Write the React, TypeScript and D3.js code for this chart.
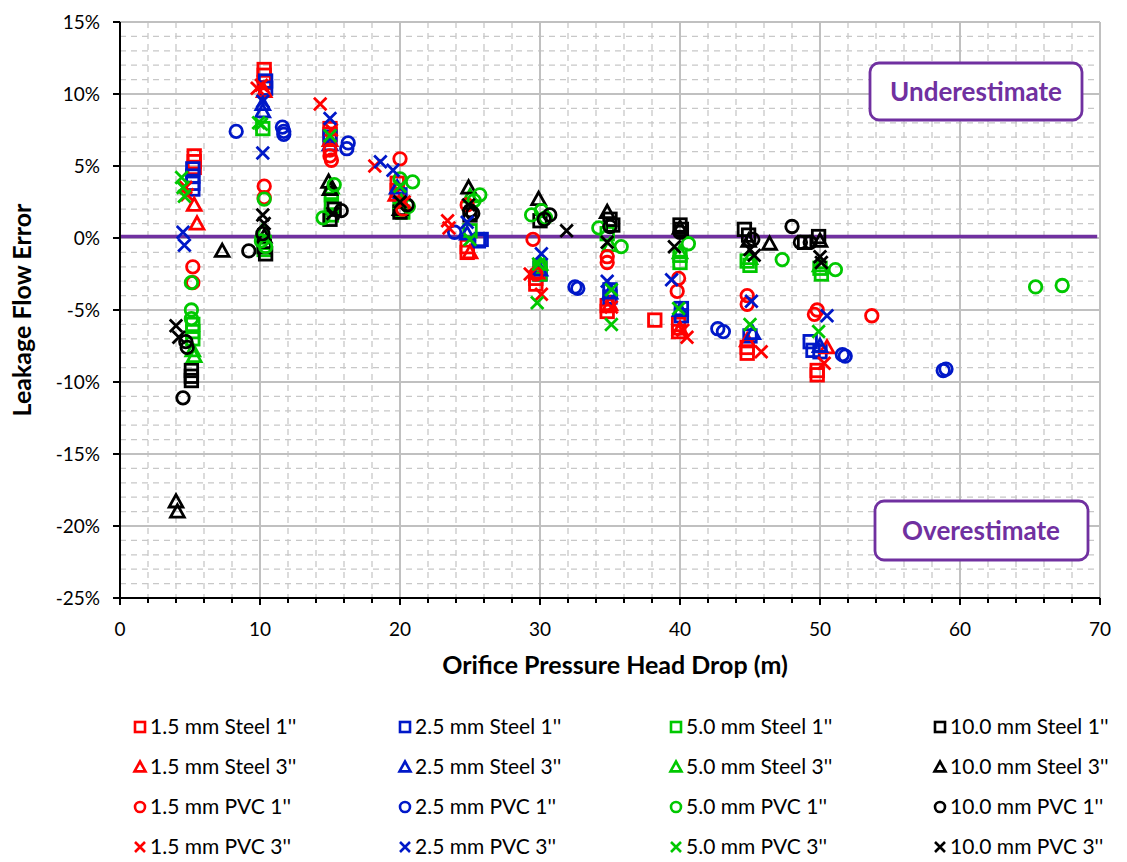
import React from "react";
import * as d3 from "d3";

type P = [number, number];

// Series data: [head drop (m), error (%)]
const s15Steel1: P[] = [[5.3,5.7],[5.3,5.3],[5.3,4.9],[10.3,11.7],[10.3,11.3],[10.3,10.8],[15.0,7.6],[15.0,7.2],[19.8,3.8],[19.8,3.3],[24.8,-0.6],[24.8,-1.0],[29.7,-2.8],[29.7,-3.2],[34.8,-4.7],[34.8,-5.1],[38.2,-5.7],[39.9,-6.0],[39.9,-6.5],[44.8,-7.6],[44.8,-8.0],[49.8,-9.2],[49.8,-9.5]];
const s25Steel1: P[] = [[5.2,4.8],[5.2,4.3],[5.2,3.8],[5.2,3.4],[10.4,10.9],[10.4,10.4],[15.0,7.0],[20.0,3.0],[25.6,-0.2],[25.8,-0.1],[30.0,-2.1],[30.0,-2.5],[35.0,-3.6],[35.0,-4.1],[40.1,-4.9],[40.1,-5.4],[45.0,-6.8],[49.3,-7.2],[49.5,-7.8],[50.0,-7.9]];
const s50Steel1: P[] = [[5.2,-6.0],[5.2,-6.5],[5.2,-7.0],[10.2,7.6],[10.3,-0.3],[10.3,-0.8],[15.1,3.0],[15.1,2.3],[15.1,1.6],[20.0,2.0],[20.2,1.8],[25.0,0.5],[30.0,-2.0],[30.0,-2.5],[34.8,0.3],[40.0,-1.2],[40.0,-1.7],[44.8,-1.6],[45.0,-1.9],[50.0,-2.1],[50.1,-2.5]];
const s10Steel1: P[] = [[5.1,-9.2],[5.1,-9.6],[5.1,-9.9],[10.3,-0.6],[10.4,-1.1],[15.0,1.3],[15.3,2.0],[20.0,1.8],[25.0,1.6],[30.0,1.2],[35.0,1.3],[35.2,0.9],[40.0,0.9],[40.1,0.6],[44.6,0.6],[44.9,0.2],[48.9,-0.3],[49.9,0.1]];
const s15Steel3: P[] = [[5.3,2.3],[5.5,1.0],[10.3,10.2],[15.0,6.8],[19.7,3.0],[25.0,-1.0],[29.8,-2.4],[35.0,-4.6],[40.0,-6.3],[44.8,-7.1],[50.5,-7.6]];
const s25Steel3: P[] = [[10.2,9.3],[10.2,8.8],[15.0,6.5],[19.8,3.5],[24.8,0.3],[30.0,-2.2],[35.0,-3.8],[40.0,-5.0],[45.2,-6.6],[50.0,-7.5]];
const s50Steel3: P[] = [[5.2,-7.8],[5.3,-8.2],[10.2,0.5],[15.1,3.5],[20.1,2.5],[25.0,2.9],[30.0,-1.8],[35.0,-0.5],[40.0,-1.0],[45.0,-1.4],[50.0,-1.9]];
const s10Steel3: P[] = [[4.0,-18.3],[4.1,-19.0],[7.3,-0.9],[10.3,0.1],[14.9,3.9],[15.0,3.4],[20.0,2.0],[24.9,3.5],[29.9,2.7],[34.8,1.8],[40.0,0.7],[44.9,-0.2],[46.4,-0.4],[50.0,-0.2]];
const s15Pvc1: P[] = [[5.2,-2.0],[5.2,-3.1],[10.3,3.6],[10.3,2.8],[15.0,6.1],[15.0,5.7],[15.1,5.4],[20.0,5.5],[20.2,2.0],[24.8,2.3],[29.5,-0.1],[29.7,-2.5],[34.8,-1.3],[34.8,-1.7],[39.9,-2.8],[39.8,-3.7],[44.8,-4.0],[44.8,-4.6],[49.8,-5.0],[49.6,-5.3],[53.7,-5.4]];
const s25Pvc1: P[] = [[8.3,7.4],[11.6,7.7],[11.7,7.4],[11.7,7.2],[16.3,6.6],[16.2,6.2],[23.9,0.4],[32.5,-3.4],[32.7,-3.5],[42.7,-6.3],[43.1,-6.5],[51.6,-8.1],[51.8,-8.2],[58.8,-9.2],[59.0,-9.1]];
const s50Pvc1: P[] = [[5.1,-3.1],[5.1,-5.0],[5.1,-5.6],[10.3,2.7],[10.1,-0.2],[10.4,-0.6],[14.5,1.4],[15.3,3.7],[20.0,4.1],[20.9,3.9],[20.6,2.2],[25.7,3.0],[25.3,2.6],[29.4,1.6],[30.1,1.9],[30.4,1.4],[34.2,0.7],[35.8,-0.6],[40.6,-0.4],[47.3,-1.5],[51.1,-2.2],[65.4,-3.4],[67.3,-3.3]];
const s10Pvc1: P[] = [[4.5,-11.1],[4.7,-7.2],[4.8,-7.6],[9.2,-0.9],[10.2,0.3],[15.8,1.9],[20.5,2.3],[25.0,1.9],[25.2,1.7],[30.3,1.3],[30.7,1.6],[35.0,0.8],[40.0,0.4],[45.2,-0.1],[48.0,0.8],[48.6,-0.3],[49.3,-0.3]];
const s15Pvc3: P[] = [[4.7,3.5],[4.8,3.0],[9.8,10.4],[10.1,10.6],[14.3,9.3],[15.1,7.5],[18.2,5.0],[20.3,2.5],[23.4,1.2],[23.5,0.7],[29.3,-2.5],[30.1,-3.9],[35.1,-4.8],[40.2,-6.4],[40.5,-6.9],[45.8,-7.9],[50.3,-8.7]];
const s25Pvc3: P[] = [[4.5,0.4],[4.6,-0.5],[10.2,9.5],[10.2,5.9],[15.0,8.3],[18.6,5.3],[19.5,4.7],[24.8,1.1],[30.1,-1.1],[34.8,-3.0],[39.4,-2.9],[45.1,-4.4],[50.5,-5.4]];
const s50Pvc3: P[] = [[4.4,4.2],[4.5,3.5],[4.6,2.9],[9.9,8.0],[10.1,7.9],[15.0,7.1],[20.0,3.6],[25.0,-0.1],[29.9,-1.8],[29.8,-4.5],[35.1,-3.6],[35.1,-6.0],[39.9,-4.9],[45.0,-6.0],[49.9,-6.5]];
const s10Pvc3: P[] = [[4.0,-6.1],[4.2,-6.9],[10.2,1.6],[10.3,1.0],[15.2,1.7],[20.0,2.5],[24.9,2.3],[31.9,0.5],[34.8,-0.3],[39.6,-0.6],[45.3,-1.2],[45.0,-0.8],[50.0,-1.3],[50.1,-1.7]];

const sizes = ["1.5", "2.5", "5.0", "10.0"];
const configs = ["Steel 1''", "Steel 3''", "PVC 1''", "PVC 3''"];
const colors = ["#FF0000", "#0018C8", "#00C800", "#000000"];
const shapes = ["square", "triangle", "circle", "cross"];
const seriesData: P[][][] = [
  [s15Steel1, s15Steel3, s15Pvc1, s15Pvc3],
  [s25Steel1, s25Steel3, s25Pvc1, s25Pvc3],
  [s50Steel1, s50Steel3, s50Pvc1, s50Pvc3],
  [s10Steel1, s10Steel3, s10Pvc1, s10Pvc3],
];
const xTicks = [0, 10, 20, 30, 40, 50, 60, 70];
const yTicks = [-25, -20, -15, -10, -5, 0, 5, 10, 15];

const PURPLE = "#7030A0";
const FONT = "Lato, 'Open Sans', sans-serif";

function Marker({ shape, color, x, y, s, sw }: { shape: string; color: string; x: number; y: number; s: number; sw: number }) {
  if (shape === "square") {
    const h = s / 2;
    return <rect x={x - h} y={y - h} width={s} height={s} fill="none" stroke={color} strokeWidth={sw} />;
  }
  if (shape === "triangle") {
    const h = s * 0.55;
    const p = `M${x},${y - h}L${x + h},${y + h * 0.8}L${x - h},${y + h * 0.8}Z`;
    return <path d={p} fill="none" stroke={color} strokeWidth={sw} strokeLinejoin="miter" />;
  }
  if (shape === "circle") {
    return <circle cx={x} cy={y} r={s / 2} fill="none" stroke={color} strokeWidth={sw} />;
  }
  const h = s / 2;
  return (
    <path d={`M${x - h},${y - h}L${x + h},${y + h}M${x - h},${y + h}L${x + h},${y - h}`} stroke={color} strokeWidth={sw} fill="none" />
  );
}

export default function App() {
  const x = d3.scaleLinear().domain([0, 70]).range([120, 1100]);
  const y = d3.scaleLinear().domain([-25, 15]).range([598, 22]);

  const minorX = d3.range(0, 71, 2).filter((v) => v % 10 !== 0);
  const minorY = d3.range(-25, 16, 1).filter((v) => v % 5 !== 0);

  const order: { si: number; ci: number }[] = [];
  for (let ci = 0; ci < 4; ci++) for (let si = 0; si < 4; si++) order.push({ si, ci });

  const legendColX = [140, 405, 676, 940];
  const legendRowY = [727, 767, 807, 847];

  return (
    <svg width={1127} height={862} style={{ position: "absolute", left: 0, top: 0, background: "#fff" }} fontFamily={FONT}>
      <rect x={0} y={0} width={1127} height={862} fill="#fff" />
      {minorX.map((v) => (
        <line key={"mx" + v} x1={x(v)} x2={x(v)} y1={y(15)} y2={y(-25)} stroke="#C8C8C8" strokeWidth={1.3} strokeDasharray="6,5" />
      ))}
      {minorY.map((v) => (
        <line key={"my" + v} x1={x(0)} x2={x(70)} y1={y(v)} y2={y(v)} stroke="#C8C8C8" strokeWidth={1.3} strokeDasharray="6,5" />
      ))}
      {xTicks.filter((v) => v > 0).map((v) => (
        <line key={"Mx" + v} x1={x(v)} x2={x(v)} y1={y(15)} y2={y(-25)} stroke="#C0C0C0" strokeWidth={2} />
      ))}
      {yTicks.map((v) => (
        <line key={"My" + v} x1={x(0)} x2={x(70)} y1={y(v)} y2={y(v)} stroke="#C0C0C0" strokeWidth={2} />
      ))}

      <line x1={x(0)} x2={x(69.8)} y1={y(0) - 1.5} y2={y(0) - 1.5} stroke={PURPLE} strokeWidth={3.6} />

      {order.map(({ si, ci }) =>
        seriesData[si][ci].map((d, i) => (
          <Marker key={`${si}-${ci}-${i}`} shape={shapes[ci]} color={colors[si]} x={x(d[0])} y={y(d[1])} s={12.5} sw={2.8} />
        ))
      )}

      <line x1={x(0)} x2={x(0)} y1={y(15)} y2={y(-25) + 7} stroke="#000" strokeWidth={2} />
      <line x1={x(0) - 7} x2={x(70)} y1={y(-25)} y2={y(-25)} stroke="#000" strokeWidth={2} />
      {yTicks.map((v) => (
        <line key={"yt" + v} x1={x(0) - 7} x2={x(0)} y1={y(v)} y2={y(v)} stroke="#000" strokeWidth={2} />
      ))}
      {d3.range(0, 71, 2).map((v) => (
        <line key={"xt" + v} x1={x(v)} x2={x(v)} y1={y(-25)} y2={y(-25) + (v % 10 === 0 ? 7 : 5)} stroke="#000" strokeWidth={2} />
      ))}
      {yTicks.map((v) => (
        <text key={"yl" + v} x={100} y={y(v)} dy="0.35em" textAnchor="end" fontSize={19} fill="#000">
          {v}%
        </text>
      ))}
      {xTicks.map((v) => (
        <text key={"xl" + v} x={x(v)} y={629} dy="0.35em" textAnchor="middle" fontSize={19} fill="#000">
          {v}
        </text>
      ))}

      <text x={615} y={665} dy="0.35em" textAnchor="middle" fontSize={25} fontWeight="bold" fill="#000">
        Orifice Pressure Head Drop (m)
      </text>
      <text transform={`translate(22,${310}) rotate(-90)`} dy="0.35em" textAnchor="middle" fontSize={25} fontWeight="bold" fill="#000">
        Leakage Flow Error
      </text>

      <rect x={870} y={63} width={212} height={57} rx={9} fill="#fff" stroke={PURPLE} strokeWidth={2.8} />
      <text x={976} y={92} dy="0.35em" textAnchor="middle" fontSize={26} fontWeight="bold" fill={PURPLE}>
        Underestimate
      </text>
      <rect x={875} y={501} width={213} height={59} rx={9} fill="#fff" stroke={PURPLE} strokeWidth={2.8} />
      <text x={981} y={531} dy="0.35em" textAnchor="middle" fontSize={26} fontWeight="bold" fill={PURPLE}>
        Overestimate
      </text>

      {sizes.map((sz, si) =>
        configs.map((cf, ci) => (
          <g key={`lg-${si}-${ci}`}>
            <Marker shape={shapes[ci]} color={colors[si]} x={legendColX[si]} y={legendRowY[ci]} s={10} sw={2.6} />
            <text x={legendColX[si] + 10} y={legendRowY[ci]} dy="0.35em" fontSize={21} fill="#000">
              {`${sz} mm ${cf}`}
            </text>
          </g>
        ))
      )}
    </svg>
  );
}
